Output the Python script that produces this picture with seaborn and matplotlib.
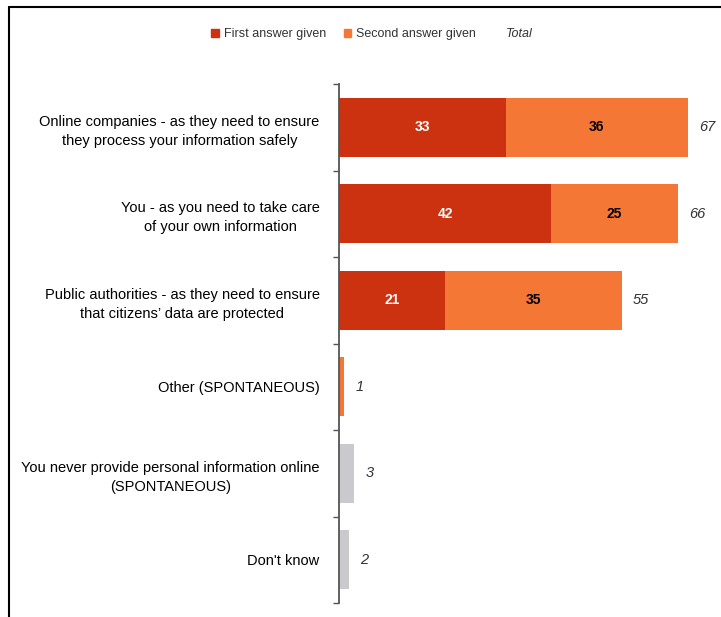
import matplotlib
matplotlib.use("Agg")
import matplotlib.pyplot as plt
import seaborn as sns
import numpy as np
from matplotlib.patches import Patch
from matplotlib.lines import Line2D

categories = [
    "Online companies - as they need to ensure\nthey process your information safely",
    "You - as you need to take care\nof your own information",
    "Public authorities - as they need to ensure\nthat citizens\u2019 data are protected",
    "Other (SPONTANEOUS)",
    "You never provide personal information online\n(SPONTANEOUS)",
    "Don't know",
]
first_answer = [33, 42, 21, 0, 0, 0]
second_answer = [36, 25, 35, 1, 0, 0]
spontaneous = [0, 0, 0, 0, 3, 2]
totals = [67, 66, 55, 1, 3, 2]

RED = "#CD3210"
ORANGE = "#F47735"
GREY = "#C9C9CE"
TEXT = "#333333"

sns.set_theme(style="white")
plt.rcParams["font.family"] = ["Liberation Sans", "DejaVu Sans"]

first_arr = np.array(first_answer)
upto_second = first_arr + np.array(second_answer)
upto_all = upto_second + np.array(spontaneous)

fig = plt.figure(figsize=(7.21, 6.17), dpi=100)
ax = fig.add_axes([339 / 721, 14 / 617, 379 / 721, 519 / 617])

common = dict(y=categories, orient="h", saturation=1, width=0.68, ax=ax, linewidth=0)
sns.barplot(x=upto_all, color=GREY, **common)
sns.barplot(x=upto_second, color=ORANGE, **common)
sns.barplot(x=first_arr, color=RED, **common)

for i in range(len(categories)):
    if first_answer[i] >= 5:
        ax.text(first_answer[i] / 2, i, str(first_answer[i]), ha="center", va="center",
                color="white", fontsize=10, fontweight="bold")
    if second_answer[i] >= 5:
        ax.text(first_answer[i] + second_answer[i] / 2, i, str(second_answer[i]),
                ha="center", va="center", color="black", fontsize=10, fontweight="bold")
    ax.annotate(str(totals[i]), xy=(upto_all[i], i), xytext=(8, 0),
                textcoords="offset points", ha="left", va="center",
                fontsize=10.5, fontstyle="italic", color=TEXT)

ax.set_xlim(0, 75)
ax.set_ylim(len(categories) - 0.5, -0.5)
ax.set_xlabel("")
ax.set_ylabel("")
ax.set_xticks([])
ax.set_yticks(range(len(categories)))
ax.set_yticklabels(categories, fontsize=10.5, color="black")
for lbl in ax.get_yticklabels():
    lbl.set_multialignment("center")
    lbl.set_linespacing(1.45)
ax.set_yticks(np.arange(-0.5, len(categories), 1), minor=True)
ax.tick_params(axis="y", which="major", length=0, pad=14)
ax.tick_params(axis="y", which="minor", left=True, length=4, width=1, color="#555555")

for side in ["top", "right", "bottom"]:
    ax.spines[side].set_visible(False)
ax.spines["left"].set_color("#555555")
ax.spines["left"].set_linewidth(1.3)

handles = [Patch(color=RED), Patch(color=ORANGE), Patch(visible=False)]
labels = ["First answer given", "Second answer given", "Total"]
leg = fig.legend(handles, labels, ncol=3, loc="center",
                 bbox_to_anchor=(372 / 721, 1 - 34 / 617), frameon=False,
                 fontsize=9, handlelength=0.6, handleheight=0.6,
                 handletextpad=0.4, columnspacing=1.4)
for t in leg.get_texts():
    t.set_color(TEXT)
leg.get_texts()[2].set_fontstyle("italic")

# outer frame lines
fig.add_artist(Line2D([9 / 721, 1], [1 - 7 / 617, 1 - 7 / 617], color="black",
                      lw=1.5, transform=fig.transFigure))
fig.add_artist(Line2D([9 / 721, 9 / 721], [0, 1 - 7 / 617], color="black",
                      lw=1.5, transform=fig.transFigure))

fig.savefig("out.png", dpi=100)
